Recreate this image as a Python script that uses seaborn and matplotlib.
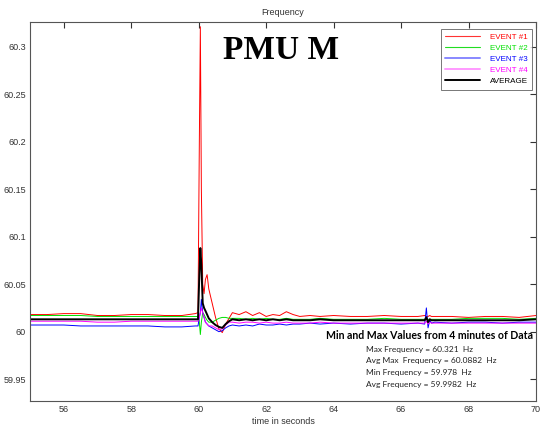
import matplotlib
matplotlib.use("Agg")
import matplotlib.pyplot as plt
import seaborn as sns
import pandas as pd
from matplotlib.lines import Line2D

# ---- data ----
t = [55.0, 55.5, 56.0, 56.5, 57.0, 57.5, 58.0, 58.5, 59.0, 59.5, 59.9, 59.98,
     60.02, 60.05, 60.08, 60.12, 60.16, 60.2, 60.25, 60.3, 60.4, 60.5, 60.6,
     60.7, 60.8, 60.9, 61.0, 61.2, 61.4, 61.6, 61.8, 62.0, 62.2, 62.4, 62.6,
     62.8, 63.0, 63.3, 63.6, 64.0, 64.5, 65.0, 65.5, 66.0, 66.5, 66.7, 66.75,
     66.8, 66.85, 66.9, 67.0, 67.5, 68.0, 68.5, 69.0, 69.5, 70.0]

event1 = [60.018, 60.018, 60.019, 60.019, 60.017, 60.017, 60.018, 60.018, 60.017, 60.017, 60.019, 60.020,
          60.200, 60.321, 60.150, 60.050, 60.040, 60.055, 60.060, 60.045, 60.030, 60.015, 60.003,
          59.999, 60.008, 60.014, 60.020, 60.018, 60.021, 60.017, 60.020, 60.016, 60.018, 60.017, 60.021,
          60.018, 60.016, 60.017, 60.016, 60.017, 60.016, 60.016, 60.017, 60.016, 60.016, 60.017, 60.016,
          60.016, 60.017, 60.016, 60.016, 60.016, 60.015, 60.016, 60.016, 60.015, 60.017]

event2 = [60.017, 60.017, 60.017, 60.017, 60.016, 60.016, 60.016, 60.016, 60.016, 60.016, 60.016, 60.016,
          60.010, 59.997, 60.010, 60.020, 60.018, 60.015, 60.012, 60.010, 60.010, 60.012, 60.014,
          60.015, 60.015, 60.014, 60.014, 60.014, 60.013, 60.014, 60.013, 60.014, 60.013, 60.013, 60.014,
          60.013, 60.013, 60.013, 60.014, 60.013, 60.013, 60.013, 60.014, 60.013, 60.013, 60.013, 60.013,
          60.013, 60.013, 60.013, 60.013, 60.013, 60.014, 60.014, 60.014, 60.013, 60.014]

event3 = [60.007, 60.007, 60.007, 60.006, 60.006, 60.006, 60.006, 60.006, 60.005, 60.005, 60.006, 60.006,
          60.015, 60.020, 60.034, 60.020, 60.015, 60.010, 60.008, 60.006, 60.004, 60.002, 60.000,
          60.001, 60.004, 60.006, 60.007, 60.006, 60.007, 60.006, 60.008, 60.007, 60.007, 60.008, 60.007,
          60.008, 60.008, 60.009, 60.008, 60.009, 60.008, 60.009, 60.009, 60.008, 60.009, 60.008, 60.025,
          60.004, 60.012, 60.009, 60.010, 60.009, 60.010, 60.010, 60.009, 60.010, 60.010]

event4 = [60.011, 60.011, 60.011, 60.011, 60.010, 60.010, 60.011, 60.011, 60.011, 60.011, 60.011, 60.011,
          60.015, 60.020, 60.025, 60.020, 60.015, 60.010, 60.008, 60.006, 60.006, 60.004, 60.002,
          60.003, 60.007, 60.010, 60.010, 60.009, 60.010, 60.010, 60.009, 60.010, 60.009, 60.009, 60.010,
          60.009, 60.009, 60.009, 60.010, 60.009, 60.009, 60.009, 60.009, 60.009, 60.009, 60.009, 60.011,
          60.008, 60.010, 60.009, 60.009, 60.009, 60.009, 60.009, 60.009, 60.009, 60.009]

average = [60.013, 60.013, 60.013, 60.013, 60.013, 60.013, 60.013, 60.013, 60.013, 60.013, 60.013, 60.013,
           60.060, 60.088, 60.070, 60.030, 60.025, 60.022, 60.018, 60.014, 60.010, 60.007, 60.005,
           60.004, 60.008, 60.011, 60.013, 60.012, 60.013, 60.012, 60.013, 60.012, 60.013, 60.012, 60.013,
           60.012, 60.012, 60.012, 60.013, 60.012, 60.012, 60.012, 60.012, 60.012, 60.012, 60.012, 60.015,
           60.010, 60.013, 60.012, 60.012, 60.012, 60.012, 60.012, 60.012, 60.012, 60.013]

series_names = ["EVENT #1", "EVENT #2", "EVENT #3", "EVENT #4", "AVERAGE"]
series_values = [event1, event2, event3, event4, average]
series_colors = ["#ff0000", "#00e000", "#0000ff", "#ff00ff", "#000000"]
legend_line_colors = ["#ff3333", "#22dd22", "#8888ff", "#ff99ff", "#000000"]
series_lw = [0.7, 0.7, 0.7, 0.7, 1.4]

x_ticks = [56, 58, 60, 62, 64, 66, 68, 70]
y_ticks = [59.95, 60.0, 60.05, 60.1, 60.15, 60.2, 60.25, 60.3]
y_tick_labels = ["59.95", "60", "60.05", "60.1", "60.15", "60.2", "60.25", "60.3"]

stats_title = "Min and Max Values from 4 minutes of Data"
stats_lines = ["Max Frequency = 60.321  Hz",
               "Avg Max  Frequency = 60.0882  Hz",
               "Min Frequency = 59.978  Hz",
               "Avg Frequency = 59.9982  Hz"]

# ---- plot ----
sns.set_style("white")
plt.rcParams['font.family'] = ['Liberation Sans', 'DejaVu Sans']

fig = plt.figure(figsize=(5.4, 4.25), dpi=100)
ax = fig.add_axes([30/540, 24/425, 506/540, 379/425])

for name, vals, col, lw in zip(series_names, series_values, series_colors, series_lw):
    df = pd.DataFrame({"t": t, "f": vals})
    sns.lineplot(data=df, x="t", y="f", color=col, lw=lw, ax=ax, estimator=None, sort=True)

ax.set_xlim(55, 70)
ax.set_ylim(59.927, 60.326)
ax.set_xticks(x_ticks)
ax.set_xticklabels([str(v) for v in x_ticks])
ax.set_yticks(y_ticks)
ax.set_yticklabels(y_tick_labels)
ax.tick_params(direction="in", top=True, right=True, length=4, width=0.8,
               labelsize=6.5, colors="#333333", pad=3)
for s in ax.spines.values():
    s.set_color("#555555")
    s.set_linewidth(0.8)

ax.set_xlabel("time in seconds", fontsize=6.5, color="#333333", labelpad=2)
ax.set_ylabel("")
ax.set_title("Frequency", fontsize=6.5, color="#333333", pad=5)

ax.text(0.497, 0.925, "PMU M", transform=ax.transAxes, fontsize=24,
        fontweight="bold", family="Liberation Serif", ha="center", va="center",
        color="black")

handles = [Line2D([0], [0], color=c, lw=(1.4 if i in (2, 3, 4) else 0.8))
           for i, c in enumerate(legend_line_colors)]
leg = ax.legend(handles, series_names, loc="upper right", fontsize=5.8,
                frameon=True, fancybox=False, edgecolor="#555555",
                handlelength=4.3, handletextpad=1.2, borderpad=0.55,
                labelspacing=0.42, borderaxespad=0.3,
                bbox_to_anchor=(0.997, 0.988))
leg.get_frame().set_linewidth(0.7)
for txt, c in zip(leg.get_texts(), series_colors):
    txt.set_color(c)

ax.text(0.995, 0.172, stats_title, transform=ax.transAxes, fontsize=7.6,
        fontweight="bold", family="Lato", ha="right", va="center", color="black")
for i, line in enumerate(stats_lines):
    ax.text(0.665, 0.137 - i * 0.031, line, transform=ax.transAxes, fontsize=6,
            family="Lato", ha="left", va="center", color="#222222")

fig.savefig("out.png", dpi=100)
